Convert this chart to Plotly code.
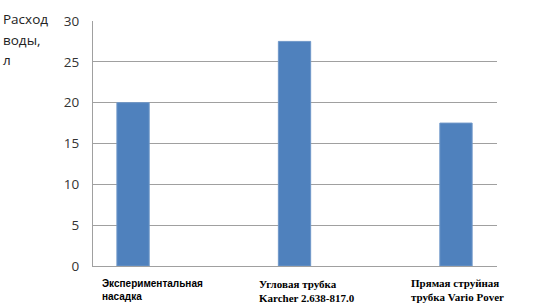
import plotly.graph_objects as go

categories = ["Экспериментальная насадка", "Угловая трубка Karcher 2.638-817.0", "Прямая струйная трубка Vario Pover"]
values = [20, 27.5, 17.5]
label_lines = [["Экспериментальная", "насадка"], ["Угловая трубка", "Karcher 2.638-817.0"], ["Прямая струйная", "трубка Vario Pover"]]
y_ticks = [0, 5, 10, 15, 20, 25, 30]
y_title = ["Расход", "воды,", "л"]

fig = go.Figure()
fig.add_trace(go.Bar(
    x=categories, y=values, width=0.2,
    marker=dict(color="#4f81bd", line=dict(color="#6f97c9", width=1)),
))

label_fonts = [
    dict(family="Liberation Sans, Arial", size=10, color="#000000"),
    dict(family="Liberation Serif, Times New Roman", size=11, color="#000000"),
    dict(family="Liberation Serif, Times New Roman", size=11, color="#000000"),
]
xshifts = [-33, -38, -47]
yshifts = [-10, -10, -9]
for cat, lines, f, xs, ys in zip(categories, label_lines, label_fonts, xshifts, yshifts):
    fig.add_annotation(
        x=cat, xref="x", y=0, yref="paper", yanchor="top", xanchor="left",
        text="<b>" + "<br>".join(lines) + "</b>", showarrow=False, align="left",
        xshift=xs, yshift=ys, font=f,
    )

for i, line in enumerate(y_title):
    fig.add_annotation(
        x=0, xref="paper", xanchor="left", xshift=-92, y=1, yref="paper", yanchor="middle",
        yshift=2 - 20.5 * i,
        text=line, showarrow=False, align="left",
        font=dict(family="Open Sans, Liberation Sans", size=13.5, color="#222222"),
    )

fig.update_layout(
    width=537, height=307,
    margin=dict(l=93, r=40, t=19, b=41),
    paper_bgcolor="white", plot_bgcolor="white",
    showlegend=False,
    bargap=0.8,
)
fig.update_xaxes(
    type="category", range=[-0.248, 2.254], showticklabels=False,
    showline=True, linecolor="#a0a0a0", linewidth=1, showgrid=False, ticks="",
)
fig.update_yaxes(
    range=[0, 30], tickvals=y_ticks, showgrid=True, gridcolor="#a0a0a0", gridwidth=1,
    showline=True, linecolor="#a0a0a0", linewidth=1, zeroline=False,
    tickfont=dict(family="Open Sans, Liberation Sans", size=13.5, color="#333333"),
    ticklabelstandoff=10,
)

fig.write_html("out.html", config={"displayModeBar": False},
               post_script="document.body.style.margin='0';document.body.style.overflow='hidden';")
